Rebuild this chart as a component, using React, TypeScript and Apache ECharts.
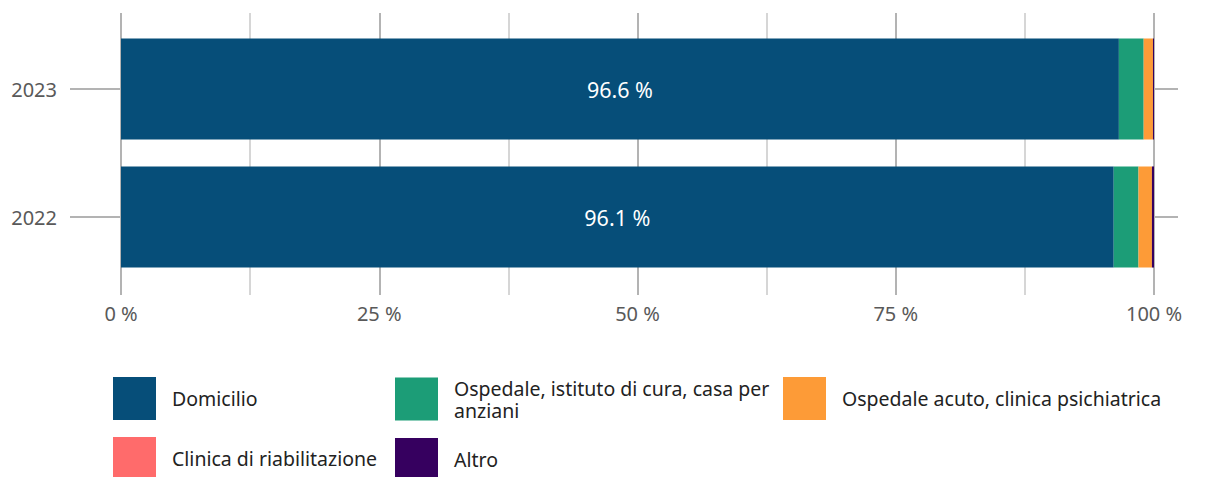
import React, { useEffect, useRef } from "react";
import * as echarts from "echarts";

const years = ["2022", "2023"];
const seriesNames = [
  "Domicilio",
  "Ospedale, istituto di cura, casa per anziani",
  "Ospedale acuto, clinica psichiatrica",
  "Clinica di riabilitazione",
  "Altro",
];
const domicilio = [96.1, 96.6];
const ospedaleIstituto = [2.4, 2.4];
const ospedaleAcuto = [1.3, 0.9];
const clinicaRiab = [0.0, 0.0];
const altro = [0.2, 0.1];
const colors = ["#064e79", "#1c9d77", "#fd9b37", "#ff6b6b", "#36005f"];
const xTickLabels = ["0 %", "25 %", "50 %", "75 %", "100 %"];

const FONT = "'Noto Sans', sans-serif";

export default function App() {
  const ref = useRef<HTMLDivElement>(null);
  useEffect(() => {
    const chart = echarts.init(ref.current!, undefined, { renderer: "svg" });
    const values = [domicilio, ospedaleIstituto, ospedaleAcuto, clinicaRiab, altro];
    const series = seriesNames.map((name, i) => ({
      name,
      type: "bar",
      stack: "total",
      barCategoryGap: "21%",
      itemStyle: { color: colors[i] },
      label:
        i === 0
          ? {
              show: true,
              position: "inside",
              color: "#ffffff",
              fontSize: 21.5,
              fontFamily: FONT,
              formatter: (p: any) => p.value.toFixed(1) + " %",
            }
          : { show: false },
      data: values[i],
    }));
    const legendBase = {
      orient: "vertical",
      top: 377,
      height: 140,
      padding: 0,
      itemWidth: 43,
      itemHeight: 43,
      itemGap: 17,
      icon: "rect",
      selectedMode: false,
      textStyle: {
        color: "#222222",
        fontSize: 19.5,
        fontFamily: FONT,
        padding: [0, 0, 0, 11],
        lineHeight: 22,
      },
    };
    const tickLine = { color: "#b3b3b3", width: 2 };
    chart.setOption({
      animation: false,
      color: colors,
      grid: { left: 121, right: 56, top: 25, bottom: 196, containLabel: false },
      xAxis: {
        type: "value",
        min: 0,
        max: 100,
        interval: 25,
        position: "bottom",
        offset: 14,
        axisLine: { show: false },
        splitLine: { show: false },
        axisTick: {
          show: true,
          inside: true,
          length: 282,
          lineStyle: tickLine,
        },
        minorTick: {
          show: true,
          splitNumber: 2,
          length: 282,
          lineStyle: { color: "#c8c8c8", width: 1.5 },
        },
        axisLabel: {
          color: "#595959",
          fontSize: 20,
          fontFamily: FONT,
          margin: 8,
          formatter: (v: number) => xTickLabels[Math.round(v / 25)] ?? "",
        },
      },
      yAxis: [
        {
          type: "category",
          data: years,
          position: "left",
          axisLine: { show: false },
          splitLine: { show: false },
          axisTick: {
            show: true,
            inside: false,
            alignWithLabel: true,
            length: 51,
            lineStyle: tickLine,
          },
          axisLabel: {
            color: "#595959",
            fontSize: 20,
            fontFamily: FONT,
            margin: 64,
          },
        },
        {
          type: "category",
          data: years,
          position: "right",
          axisLine: { show: false },
          splitLine: { show: false },
          axisTick: {
            show: true,
            inside: false,
            alignWithLabel: true,
            length: 24,
            lineStyle: tickLine,
          },
          axisLabel: { show: false },
        },
      ],
      legend: [
        { ...legendBase, left: 113, data: [seriesNames[0], seriesNames[3]] },
        {
          ...legendBase,
          left: 395,
          data: [seriesNames[1], seriesNames[4]],
          formatter: (n: string) =>
            n === seriesNames[1] ? "Ospedale, istituto di cura, casa per\nanziani" : n,
        },
        { ...legendBase, left: 783, data: [seriesNames[2]] },
      ],
      series,
    });
    return () => chart.dispose();
  }, []);
  return (
    <div
      ref={ref}
      style={{ position: "fixed", left: 0, top: 0, width: 1210, height: 477, background: "#fff" }}
    />
  );
}
